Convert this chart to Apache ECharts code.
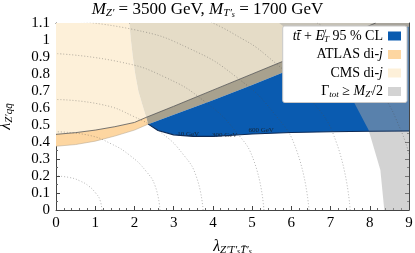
<!DOCTYPE html>
<html>
<head>
<meta charset="utf-8">
<script src="https://cdn.jsdelivr.net/npm/echarts@6/dist/echarts.min.js"></script>
<style>
  html, body { margin: 0; padding: 0; background: #fff; }
  #chart { width: 415px; height: 253px; }
</style>
</head>
<body>
<div id="chart"></div>
<script>
// boundaries, points are [lambda_Z'T'T', lambda_Z'qq]
var cmsEdge = [[0, 0.445], [0.5, 0.455], [1, 0.47], [1.5, 0.49], [2, 0.515], [2.3, 0.545],
  [3, 0.61], [4, 0.705], [5, 0.8], [6, 0.895], [7, 0.99], [8.15, 1.1]];
var cmsSide = [[2.3, 0.545], [2.2, 0.62], [2.1, 0.7], [2.02, 0.8], [1.96, 0.9], [1.91, 1.0], [1.87, 1.1]];
var atlasEdge = [[0, 0.375], [0.5, 0.385], [1, 0.405], [1.5, 0.435], [2, 0.47], [2.35, 0.505]];
var metTop = [[2.35, 0.505], [3, 0.56], [4, 0.645], [5, 0.735], [5.63, 0.794], [7, 0.92], [8, 1.0], [9, 1.08]];
var metBottom = [[2.35, 0.505], [2.6, 0.468], [3, 0.442], [3.5, 0.433], [4, 0.433], [4.5, 0.44],
  [5, 0.447], [6, 0.456], [7, 0.46], [8, 0.463], [9, 0.465]];
var widthEdge = [[8.37, 0], [8.27, 0.235], [7.97, 0.47], [7.5, 0.676], [6.9, 0.85], [6.24, 1.0], [5.69, 1.1]];

// dotted width contours
var widthLines = [
  [[1.17, 0], [1.12, 0.06], [1.01, 0.1], [0.84, 0.14], [0.62, 0.17], [0.37, 0.19], [0, 0.2]],
  [[2.65, 0], [2.53, 0.14], [2.29, 0.23], [1.89, 0.32], [1.4, 0.39], [0.83, 0.44], [0, 0.46]],
  [[3.75, 0], [3.58, 0.195], [3.25, 0.325], [2.68, 0.455], [1.98, 0.55], [1.17, 0.62], [0, 0.65]],
  [[5.3, 0], [5.06, 0.28], [4.59, 0.46], [3.78, 0.64], [2.79, 0.78], [1.65, 0.87], [0, 0.92]],
  [[6.45, 0], [6.15, 0.34], [5.59, 0.56], [4.61, 0.78], [3.4, 0.95], [2.01, 1.06], [0, 1.12]],
  [[7.5, 0], [7.16, 0.39], [6.5, 0.65], [5.36, 0.91], [4.5, 1.04], [3.95, 1.105]],
  [[9, 0.33], [8.8, 0.465], [8.34, 0.676], [7.6, 0.9], [6.9, 1.06], [6.6, 1.11]]
];

var massNames = ['10 GeV', '300 GeV', '600 GeV'];
var massAt = [[3.37, 0.447], [4.3, 0.44], [5.23, 0.47]];

var serif = 'Liberation Serif';

function left(pts, x) { return pts.filter(function (p) { return p[0] <= x; }); }
function right(pts, x) { return pts.filter(function (p) { return p[0] >= x; }); }
function rev(pts) { return pts.slice().reverse(); }

var creamPoly = left(cmsEdge, 2.3).concat(cmsSide.slice(1), [[0, 1.1]]);
var tanPoly = cmsSide.concat(rev(right(cmsEdge, 2.3)));
var bandPoly = right(cmsEdge, 2.3).concat([[9, 1.1]], rev(metTop));
var orangePoly = atlasEdge.concat(rev(left(cmsEdge, 2.3)));
var bluePoly = metTop.concat(rev(metBottom));
var widthPoly = widthEdge.concat([[9, 1.1], [9, 0]]);

function area(name, pts, color) {
  return {
    type: 'custom',
    name: name,
    data: pts,
    clip: true,
    silent: true,
    itemStyle: { color: color },
    renderItem: function (params, api) {
      if (params.dataIndex !== 0) return null;
      return {
        type: 'polygon',
        shape: { points: pts.map(function (p) { return api.coord(p); }) },
        style: { fill: color }
      };
    }
  };
}

function edge(pts, color, width) {
  return {
    type: 'line', data: pts, showSymbol: false, silent: true,
    lineStyle: { color: color, width: width }
  };
}

var series = [
  area('CMS di-j', creamPoly, '#fdf0d9'),
  area('tan', tanPoly, '#e5dcc7'),
  area('ATLAS di-j', orangePoly, '#fdd6a1'),
  area('band', bandPoly, '#a8a18e'),
  area('met', bluePoly, '#0a5bb0'),
  area('width', widthPoly, 'rgba(168,168,168,0.5)'),
  edge(cmsEdge, '#555', 0.8),
  edge(atlasEdge, '#b0a08a', 0.5),
  edge(metBottom, '#0d2a55', 1.1)
];

widthLines.forEach(function (pts) {
  series.push({
    type: 'line', data: pts, smooth: 0.5, showSymbol: false, silent: true,
    lineStyle: { color: 'rgba(80,80,80,0.6)', width: 0.7, type: [1, 2] }
  });
});

series.push({
  type: 'scatter',
  symbolSize: 0,
  silent: true,
  data: massNames.map(function (n, i) { return { name: n, value: massAt[i] }; }),
  label: {
    show: true, position: 'inside', formatter: '{b}',
    fontFamily: serif, fontSize: 7, color: '#1a1a1a'
  }
});

var legendText = {
  'met': '{it|t}{it|t\u0304} + {it|E\u0338}{sub|T} 95 % CL',
  'ATLAS di-j': 'ATLAS di-{it|j}',
  'CMS di-j': 'CMS di-{it|j}',
  'width': '\u0393{sub|tot} \u2265 {it|M}{sub|Z\u2032}/2'
};

var rich = {
  it: { fontStyle: 'italic', fontFamily: serif, fontSize: 14, lineHeight: 16 },
  sub: { fontSize: 9, fontFamily: serif, fontStyle: 'italic', lineHeight: 9, verticalAlign: 'bottom' }
};

var axisRich = {
  n: { fontFamily: serif, fontSize: 16, fontStyle: 'italic', lineHeight: 18 },
  sub: { fontFamily: serif, fontSize: 11, fontStyle: 'italic', lineHeight: 10, verticalAlign: 'bottom' },
  ss: { fontFamily: serif, fontSize: 8, fontStyle: 'italic', lineHeight: 6, verticalAlign: 'bottom' }
};

function frame(pos, show, split) {
  return {
    type: 'value',
    position: pos,
    axisLine: { show: true, onZero: false, lineStyle: { color: '#444', width: 1 } },
    axisTick: { show: true, inside: true, length: 4, lineStyle: { color: '#444' } },
    minorTick: { show: true, splitNumber: split, length: 2, lineStyle: { color: '#666' } },
    axisLabel: { show: show, color: '#000', fontFamily: serif, fontSize: 15 },
    splitLine: { show: false }
  };
}

var nameStyle = { fontFamily: serif, fontSize: 16, color: '#000', rich: axisRich };

var xBottom = frame('bottom', true, 5);
xBottom.min = 0; xBottom.max = 9; xBottom.interval = 1;
xBottom.name = '{n|\u03bb}{sub|Z\u2032T\u2032}{ss|s}{sub|T\u0304\u2032}{ss|s}';
xBottom.nameLocation = 'middle';
xBottom.nameGap = 28;
xBottom.nameTextStyle = nameStyle;
xBottom.axisLabel.margin = 6;

var xTop = frame('top', false, 5);
xTop.min = 0; xTop.max = 9; xTop.interval = 1;

var yLeft = frame('left', true, 2);
yLeft.min = 0; yLeft.max = 1.1; yLeft.interval = 0.1;
yLeft.axisLabel.formatter = function (v) { return String(+v.toFixed(1)); };
yLeft.axisLabel.margin = 6;
yLeft.name = '{n|\u03bb}{sub|Z\u2032qq\u0304}';
yLeft.nameLocation = 'middle';
yLeft.nameGap = 41;
yLeft.nameRotate = 90;
yLeft.nameTextStyle = nameStyle;

var yRight = frame('right', false, 2);
yRight.min = 0; yRight.max = 1.1; yRight.interval = 0.1;

var chart = echarts.init(document.getElementById('chart'), null, { renderer: 'canvas' });
chart.setOption({
  animation: false,
  title: {
    text: '{it|M}{sub|Z\u2032} = 3500 GeV, {it|M}{sub|T\u2032}{ss|s} = 1700 GeV',
    left: 'center',
    top: 0,
    padding: [0, 0, 0, 50],
    textStyle: {
      fontFamily: serif, fontSize: 17, fontWeight: 'normal', color: '#000',
      rich: {
        it: { fontFamily: serif, fontSize: 17, fontStyle: 'italic', lineHeight: 19 },
        sub: { fontFamily: serif, fontSize: 11, fontStyle: 'italic', lineHeight: 10, verticalAlign: 'bottom' },
        ss: { fontFamily: serif, fontSize: 8, fontStyle: 'italic', lineHeight: 6, verticalAlign: 'bottom' }
      }
    }
  },
  grid: { left: 56, right: 6, top: 23, bottom: 43, outerBoundsMode: 'none' },
  xAxis: [xBottom, xTop],
  yAxis: [yLeft, yRight],
  legend: {
    data: ['met', 'ATLAS di-j', 'CMS di-j', 'width'],
    orient: 'vertical',
    align: 'right',
    right: 8,
    top: 26,
    icon: 'rect',
    itemWidth: 13,
    itemHeight: 9,
    itemGap: 2.5,
    padding: [2, 6, 3, 10],
    backgroundColor: '#fff',
    borderColor: '#c8c8c8',
    borderWidth: 1,
    borderRadius: 2,
    selectedMode: false,
    formatter: function (name) { return legendText[name]; },
    textStyle: { fontFamily: serif, fontSize: 14, lineHeight: 16, color: '#000', rich: rich }
  },
  series: series.map(function (s) { s.xAxisIndex = 0; s.yAxisIndex = 0; return s; })
});
</script>
</body>
</html>
